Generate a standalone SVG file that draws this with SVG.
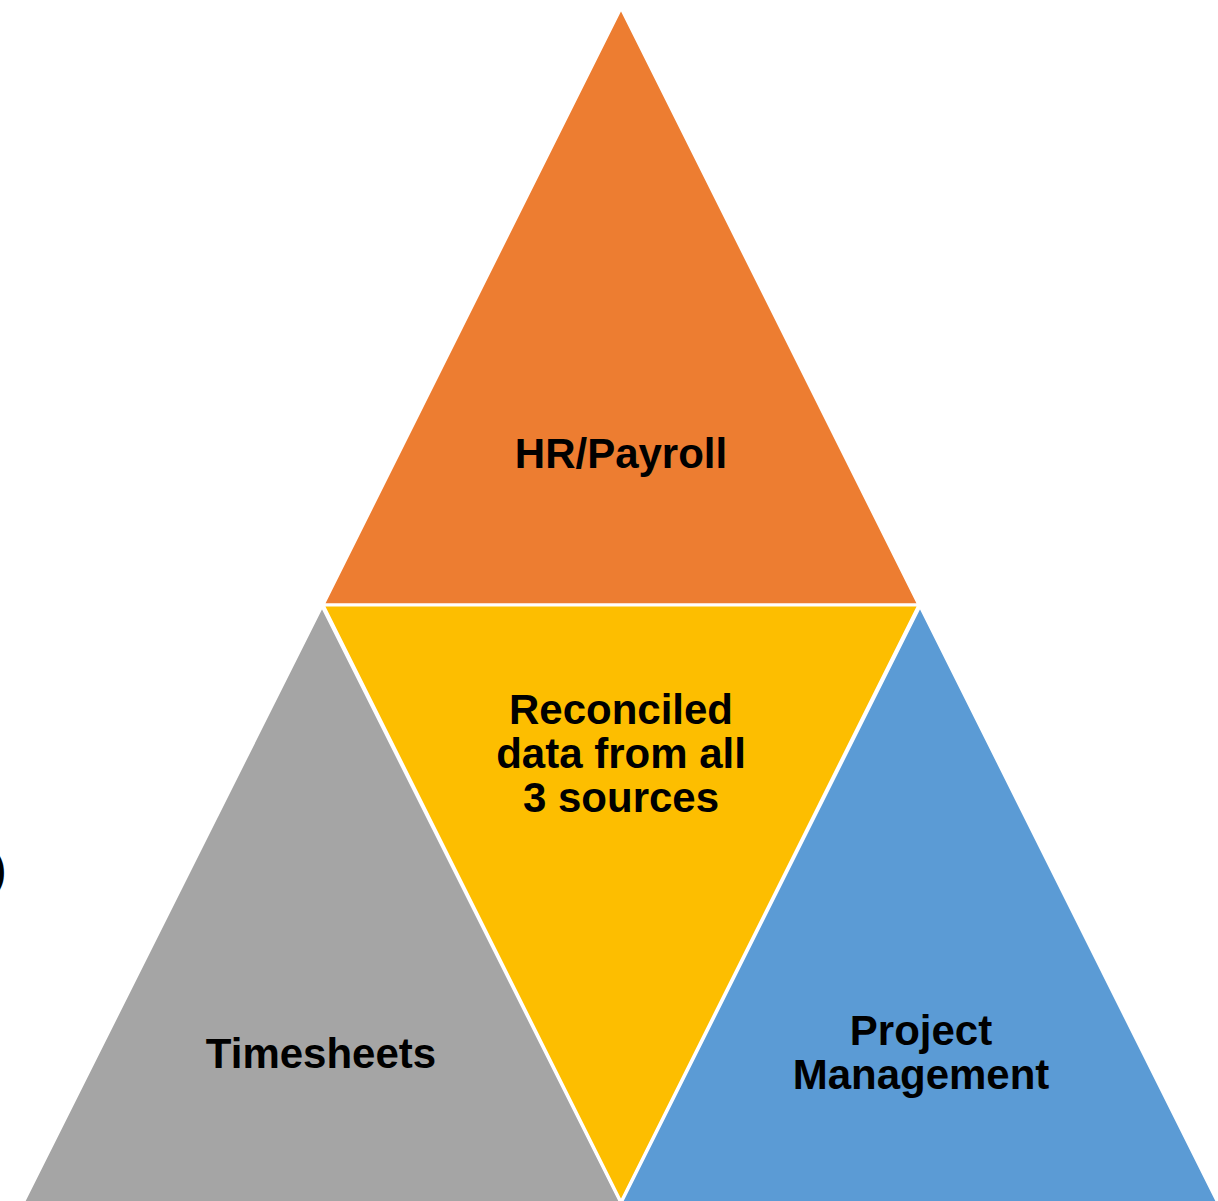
<svg xmlns="http://www.w3.org/2000/svg" width="1218" height="1201" viewBox="0 0 1218 1201">
<style>
.tri{stroke:#fff;stroke-width:3;stroke-linejoin:miter}
.lbl{font-family:"Liberation Sans",Arial,sans-serif;font-weight:bold;font-size:42px;fill:#000;text-anchor:middle}
</style>
<rect width="1218" height="1201" fill="#fff"/>
<g id="hr-payroll">
<polygon class="tri" fill="#ED7D31" points="621,8 919,605 323,605"/>
<text class="lbl" x="621" y="468">HR/Payroll</text>
</g>
<g id="timesheets">
<polygon class="tri" fill="#A5A5A5" points="322,606 621,1203 23,1203"/>
<text class="lbl" x="321" y="1068">Timesheets</text>
</g>
<g id="reconciled">
<polygon class="tri" fill="#FDBE00" points="323,605 919,605 621,1202"/>
<text class="lbl" x="621" y="724">Reconciled</text>
<text class="lbl" x="621" y="768">data from all</text>
<text class="lbl" x="621" y="812">3 sources</text>
</g>
<g id="project-management">
<polygon class="tri" fill="#5B9BD5" points="920,606 1218,1203 621,1203"/>
<text class="lbl" x="921" y="1045">Project</text>
<text class="lbl" x="921" y="1089">Management</text>
</g>
<g id="connectors"></g>
<text class="lbl" x="-8" y="884" style="text-anchor:start">)</text>
</svg>
